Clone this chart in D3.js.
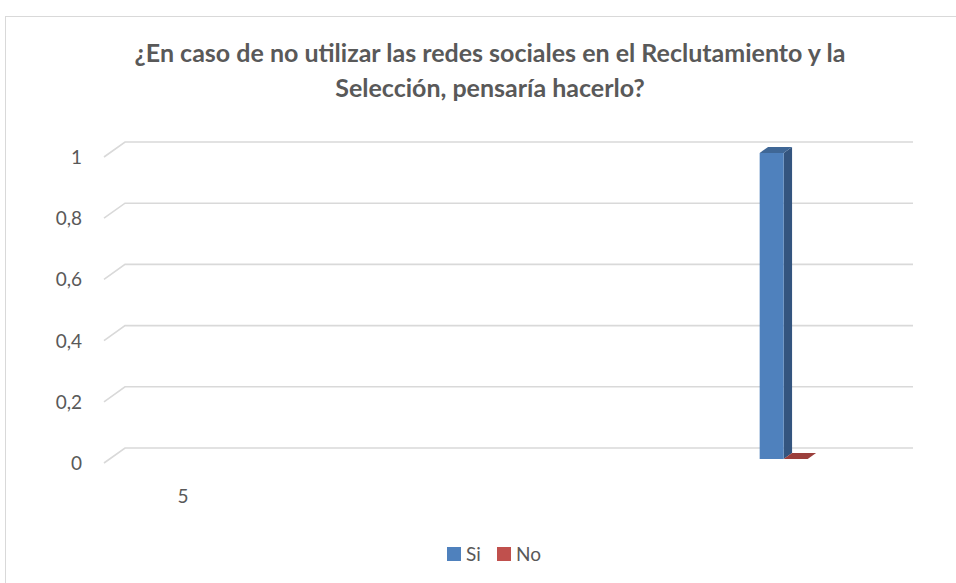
<!DOCTYPE html>
<html>
<head>
<meta charset="utf-8">
<script src="https://cdn.jsdelivr.net/npm/d3@7"></script>
<style>
  html, body { margin: 0; padding: 0; background: #fff; }
  svg { display: block; font-family: Lato, "Open Sans", sans-serif; }
</style>
</head>
<body>
<svg id="chart" width="956" height="583"></svg>
<script>
// data
const categories = ["5", ""];
const seriesNames = ["Si", "No"];
const siValues = [null, 1];
const noValues = [null, 0];
const yTicks = [0, 0.2, 0.4, 0.6, 0.8, 1];
const titleLines = [
  "¿En caso de no utilizar las redes sociales en el Reclutamiento y la",
  "Selección, pensaría hacerlo?"
];

const colors = {
  Si: { front: "#4f81bd", side: "#34557f", top: "#3f6796" },
  No: { front: "#c0504d", side: "#8a3a38", top: "#9b3f3c" }
};

const svg = d3.select("#chart");

// chart frame
svg.append("rect")
  .attr("x", 5.5).attr("y", 16.5)
  .attr("width", 960).attr("height", 600)
  .attr("fill", "#fff")
  .attr("stroke", "#d9d9d9");

// 3d wall: back plane coords, depth shifts to the front
const depthDx = -21, depthDy = 15;
function proj(x, y, t) {
  return [x + depthDx * t, y + depthDy * t];
}

const y = d3.scaleLinear().domain([0, 1]).range([448, 142]);
const x = d3.scalePoint().domain(categories).range([204, 799]);
const wallLeft = 125, wallRight = 913;

// gridlines with the floor/side diagonals
const grid = svg.append("g");
yTicks.forEach(t => {
  const yy = y(t);
  const p = [proj(wallLeft, yy, 1), [wallLeft, yy], [wallRight, yy]];
  grid.append("path")
    .attr("d", d3.line()(p))
    .attr("fill", "none")
    .attr("stroke", "#d9d9d9")
    .attr("stroke-width", 1.6);
});

// y axis labels
const fmt = d => String(d).replace(".", ",");
svg.append("g").selectAll("text")
  .data(yTicks)
  .join("text")
  .attr("x", 82)
  .attr("y", d => proj(wallLeft, y(d), 1)[1] + 7)
  .attr("text-anchor", "end")
  .attr("fill", "#595959")
  .attr("font-size", 19)
  .text(fmt);

// category labels
svg.append("g").selectAll("text")
  .data(categories)
  .join("text")
  .attr("x", d => proj(x(d), 0, 1)[0])
  .attr("y", 503)
  .attr("text-anchor", "middle")
  .attr("fill", "#595959")
  .attr("font-size", 19)
  .text(d => d);

// 3d columns
const barW = 24, t0 = 0.33, t1 = 0.73;
const series = [
  { name: "Si", values: siValues },
  { name: "No", values: noValues }
];
const bars = svg.append("g");
series.forEach((s, i) => {
  s.values.forEach((v, j) => {
    if (v == null) return;
    const x0 = x(categories[j]) - barW + barW * i;
    const x1 = x0 + barW;
    const yv = y(v), yb = y(0);
    const c = colors[s.name];
    const poly = pts => bars.append("polygon")
      .attr("points", pts.map(p => p.join(",")).join(" "));
    if (yb - yv > 0) {
      poly([proj(x1, yv, t1), proj(x1, yv, t0), proj(x1, yb, t0), proj(x1, yb, t1)])
        .attr("fill", c.side);
      poly([proj(x0, yv, t1), proj(x1, yv, t1), proj(x1, yb, t1), proj(x0, yb, t1)])
        .attr("fill", c.front);
    }
    poly([proj(x0, yv, t1), proj(x1, yv, t1), proj(x1, yv, t0), proj(x0, yv, t0)])
      .attr("fill", c.top);
  });
});

// title
svg.append("g").selectAll("text")
  .data(titleLines)
  .join("text")
  .attr("x", 490)
  .attr("y", (d, i) => 62 + i * 35)
  .attr("text-anchor", "middle")
  .attr("fill", "#595959")
  .attr("font-size", 25)
  .attr("font-weight", "bold")
  .text(d => d);

// legend
const legend = svg.append("g");
const legendX = [447, 497];
seriesNames.forEach((n, i) => {
  legend.append("rect")
    .attr("x", legendX[i]).attr("y", 547)
    .attr("width", 14).attr("height", 14)
    .attr("fill", colors[n].front);
  legend.append("text")
    .attr("x", legendX[i] + 19).attr("y", 561)
    .attr("fill", "#595959")
    .attr("font-size", 19)
    .text(n);
});
</script>
</body>
</html>
